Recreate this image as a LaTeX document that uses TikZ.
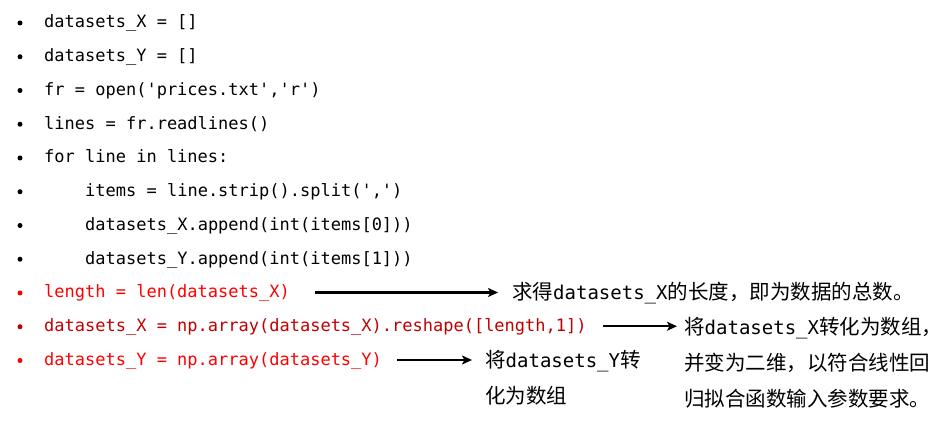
\documentclass[tikz,border=0pt]{standalone}
\usepackage{fontspec}
\setmonofont{DejaVu Sans Mono}
\newfontfamily\cjk{Noto Sans CJK SC}
\usetikzlibrary{calc, arrows.meta}
\definecolor{codered}{HTML}{FF0000}
\definecolor{darkred}{HTML}{C00000}
\newcommand\mono[1]{{\fontsize{19}{25}\selectfont\ttfamily #1}}
\tikzset{
    code/.style={anchor=base west, inner sep=0pt, font=\fontsize{17}{20}\selectfont\ttfamily},
    dot/.style={circle, fill, inner sep=0pt, minimum size=5pt},
    note/.style={anchor=base west, inner sep=0pt, font=\fontsize{20.5}{25}\selectfont\cjk},
    arr/.style={-{Stealth[length=10pt,width=9pt,inset=2.5pt]}, line width=2.2pt}
}

\begin{document}
\begin{tikzpicture}[x=1pt,y=1pt]
                \useasboundingbox (0,0) rectangle (943,427);
                \foreach \n/\ind/\col/\txt in {
                    1/0/black/{datasets\_X = []},
                    2/0/black/{datasets\_Y = []},
                    3/0/black/{fr = open('prices.txt','r')},
                    4/0/black/{lines = fr.readlines()},
                    5/0/black/{for line in lines:},
                    6/1/black/{items = line.strip().split(',')},
                    7/1/black/{datasets\_X.append(int(items[0]))},
                    8/1/black/{datasets\_Y.append(int(items[1]))},
                    9/0/codered/{length = len(datasets\_X)},
                    10/0/darkred/{datasets\_X = np.array(datasets\_X).reshape([length,1])},
                    11/0/codered/{datasets\_Y = np.array(datasets\_Y)}}{
                    \node[dot, \col] (b\n) at (20,{404-33.75*(\n-1)}) {};
                    \node[code, text=\col] (code\n) at ({44+41*\ind},{399-33.75*(\n-1)}) {\txt};
                }
                \node[note] (ann9) at (512,127) {求得\mono{datasets\_X}的长度，即为数据的总数。};
                \node[note] (ann10a) at (684,92) {将\mono{datasets\_X}转化为数组，};
                \node[note] (ann10b) at ([yshift=-36pt]ann10a.base west) {并变为二维，以符合线性回};
                \node[note] (ann10c) at ([yshift=-36pt]ann10b.base west) {归拟合函数输入参数要求。};
                \node[note] (ann11a) at (485,59.5) {将\mono{datasets\_Y}转};
                \node[note] (ann11b) at ([yshift=-36pt]ann11a.base west) {化为数组};
                \draw[arr] ($(code9.base east)+(25,5.5)$) -- ($(code9.base east -| ann9.west)+(-14,5.5)$);
                \draw[arr] ($(code10.base east)+(16,5.5)$) -- ($(code10.base east -| ann10a.west)+(-7,5.5)$);
                \draw[arr] ($(code11.base east)+(15,5.5)$) -- ($(code11.base east -| ann11a.west)+(-13,5.5)$);
            \end{tikzpicture}
\end{document}
